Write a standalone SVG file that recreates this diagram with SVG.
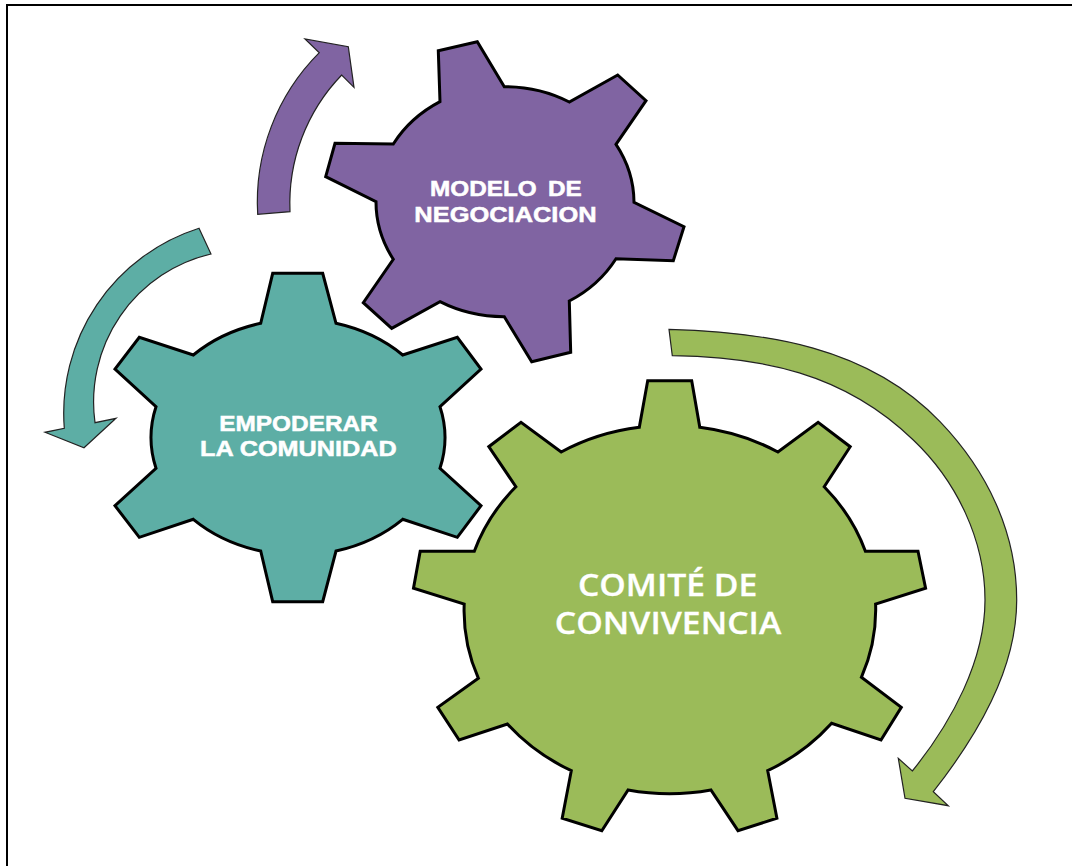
<svg xmlns="http://www.w3.org/2000/svg" width="1072" height="866" viewBox="0 0 1072 866">
<style>
.gear{stroke:#000;stroke-width:3;stroke-linejoin:miter}
.arrow{stroke:#222;stroke-width:1.2;stroke-linejoin:miter}
.purple{fill:#8064A2}.teal{fill:#5DAEA5}.green{fill:#9BBB59}
.t1{font-family:"Liberation Sans",Arial,sans-serif;font-weight:700;font-size:22px;fill:#fff;stroke:#fff;stroke-width:.5}
.t2{font-family:"Open Sans","Noto Sans",sans-serif;font-weight:600;font-size:31px;fill:#fff;stroke:#fff;stroke-width:.3}
</style>
<rect width="1072" height="866" fill="#fff"/>
<path id="frame" d="M7 866V5H1072" fill="none" stroke="#000" stroke-width="2"/>
<g id="connectors">
<path id="arrow-purple" class="arrow purple" d="M257.700 214.300A211 211 0 0 1 319.300 52.700L305 39L348.300 46.700L354 87.300L341.700 75A185 185 0 0 0 290 211.700Z"/>
<path id="arrow-teal" class="arrow teal" d="M199 228.300A194 194 0 0 0 64.300 428.300L45 432.300L84 447.700L116 418.300L95 422.700A152 152 0 0 1 211 254Z"/>
<path id="arrow-green" class="arrow green" d="M669 329.300C764 332 868 346 940 421.700C987 470.700 1016.700 532 1016.700 600C1016.700 670 976.700 736.400 933.300 791.700L948.300 805.700L905 798.300L898.300 758.300L912.300 771C952 722 985 660 985 600C985 540 956.500 481 913.300 440C843 372 760 357 672.300 355.700Z"/>
</g>
<g id="gear-purple">
<path class="gear purple" d="M438.300 50.700L477.300 41.700L504.300 86.700A129 115 0 0 1 569.300 102L617.700 75L646 100.700L616 144.300A129 115 0 0 1 634 202.300L684 226.700L673.300 260.700L616 258.700A129 115 0 0 1 569.300 301L570.700 352.300L531.700 361.700L504.300 316.700A129 115 0 0 1 440 301.700L391.700 328.300L363.300 302.700L393.300 259.300A129 115 0 0 1 376 201.700L325.700 176.700L335 143.300L393.300 144A129 115 0 0 1 440 101.700Z"/>
<text class="t1" x="430" y="195.700" textLength="151.700" lengthAdjust="spacingAndGlyphs" word-spacing="4">MODELO DE</text>
<text class="t1" x="414.300" y="221.700" textLength="182.300" lengthAdjust="spacingAndGlyphs">NEGOCIACION</text>
</g>
<g id="gear-teal">
<path class="gear teal" d="M272.700 273.300H322.700L336 323.300A148 120 0 0 1 402.700 355L457.300 337.300L481 369L440 406.700A148 120 0 0 1 440 468.300L481 505.700L457.300 537.300L402.700 519.300A148 120 0 0 1 336 551L322.700 601.700H272.700L260.700 551A148 120 0 0 1 193.300 519.300L139.300 537.300L115 505.700L156 468.300A148 120 0 0 1 156 406.700L115 369L139.300 337.300L193.300 355A148 120 0 0 1 260.700 323.300Z"/>
<text class="t1" x="219.300" y="430.700" textLength="158.400" lengthAdjust="spacingAndGlyphs">EMPODERAR</text>
<text class="t1" x="200" y="456" textLength="196.700" lengthAdjust="spacingAndGlyphs">LA COMUNIDAD</text>
</g>
<g id="gear-green">
<path class="gear green" d="M647.700 380.700H691.700L699.800 427.300A206 184.500 0 0 1 777.900 452L818.100 422.300L850.200 446.700L824.200 486.700A206 184.500 0 0 1 865.400 551.300H918L925.600 588.300L875.600 604A206 184.500 0 0 1 861.400 677.300L901.300 707.300L881 740L831.600 723.300A206 184.500 0 0 1 767.700 770.700L776.900 818.300L738 830.700L710.900 790A206 184.500 0 0 1 628.100 790L601.800 830.700L562.200 818.300L571.300 770.700A206 184.500 0 0 1 507.400 724L459.100 740L437.800 707.300L478.400 678.300A206 184.500 0 0 1 464.200 604L413.500 588.300L420.200 551.300H474.300A206 184.500 0 0 1 515.900 486.700L488.800 446.700L521 422.300L561.200 452A206 184.500 0 0 1 639.300 427.300Z"/>
<text class="t2" x="578" y="596" textLength="179.300" lengthAdjust="spacingAndGlyphs">COMITÉ DE</text>
<text class="t2" x="554.800" y="633.500" textLength="226.500" lengthAdjust="spacingAndGlyphs">CONVIVENCIA</text>
</g>
</svg>
